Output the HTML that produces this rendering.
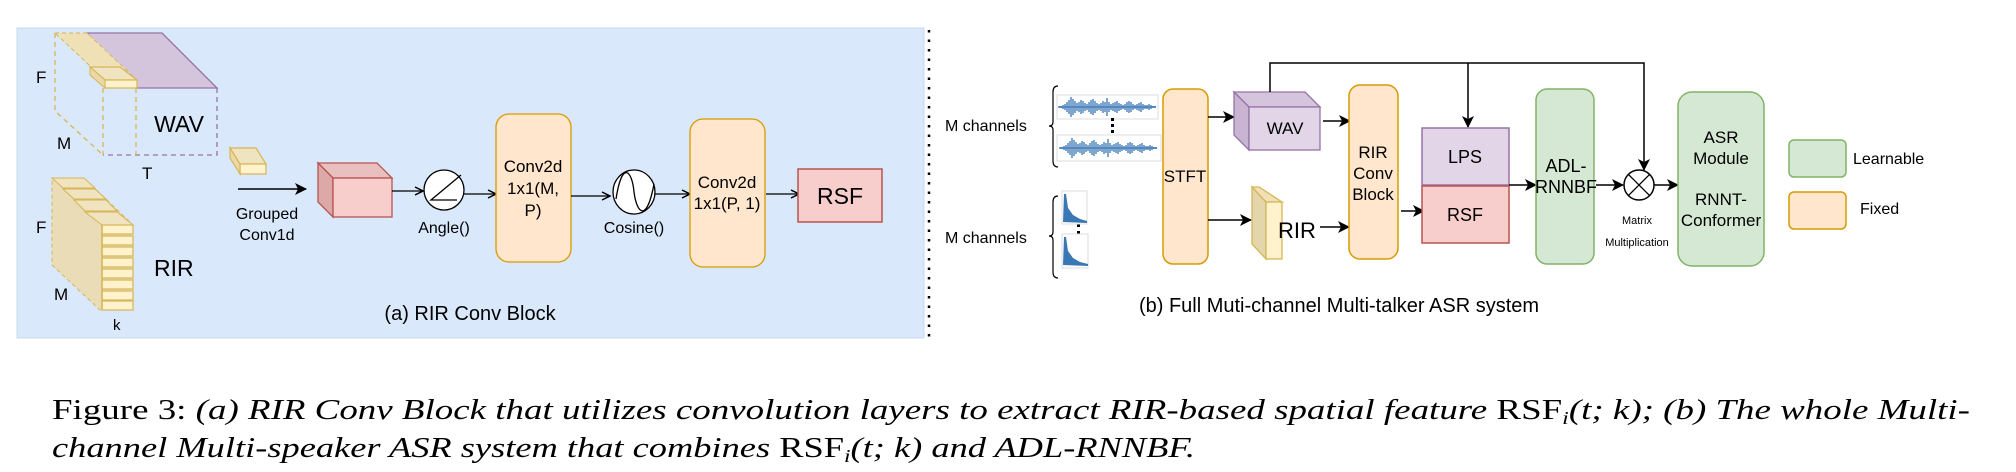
<!DOCTYPE html>
<html><head><meta charset="utf-8"><style>
html,body{margin:0;padding:0;background:#fff;}
svg{display:block;}
text{font-family:"Liberation Sans",sans-serif;fill:#000;}
.cap{font-family:"Liberation Serif",serif;}
</style></head><body>
<svg width="2016" height="472" viewBox="0 0 2016 472" xmlns="http://www.w3.org/2000/svg">
<defs>
<marker id="oa" markerWidth="10" markerHeight="10" refX="9" refY="5" orient="auto" markerUnits="userSpaceOnUse"><path d="M1 1 L9 5 L1 9" fill="none" stroke="#000" stroke-width="1.5"/></marker>
<marker id="sa" markerWidth="12" markerHeight="12" refX="11" refY="6" orient="auto" markerUnits="userSpaceOnUse"><path d="M0 0 L12 6 L0 12 L3 6 Z" fill="#000"/></marker>
<path id="wv" d="M1059 -1V1M1061 -1V1M1063 -2V2M1065 -3V3M1067 -5V5M1069 -7V7M1071 -10V10M1073 -8V8M1075 -6V6M1077 -4V4M1079 -5V5M1081 -7V7M1083 -6V6M1085 -4V4M1087 -3V3M1089 -5V5M1091 -7V7M1093 -8V8M1095 -6V6M1097 -4V4M1099 -3V3M1101 -4V4M1103 -6V6M1105 -5V5M1107 -9V9M1109 -5V5M1111 -3V3M1113 -4V4M1115 -5V5M1117 -6V6M1119 -4V4M1121 -3V3M1123 -2V2M1125 -3V3M1127 -5V5M1129 -6V6M1131 -5V5M1133 -3V3M1135 -2V2M1137 -3V3M1139 -4V4M1141 -5V5M1143 -3V3M1145 -2V2M1147 -2V2M1149 -3V3M1151 -2V2M1153 -1V1M1155 -1V1M1059 0H1156" fill="none" stroke="#3a77b5" stroke-width="1.3"/>
</defs>
<!-- panel a -->
<rect x="17" y="28" width="907" height="310" fill="#dae8fc" stroke="#c9d8ee"/>
<line x1="929" y1="30" x2="929" y2="340" stroke="#000" stroke-width="2.5" stroke-dasharray="2.5,7"/>

<!-- WAV slab -->
<polygon points="87,33 162,33 217,88 137,88" fill="#d5c5dc" stroke="#9673a6" stroke-width="1.3"/>
<polyline points="217,88 217,155 103,155" fill="none" stroke="#9673a6" stroke-width="1.3" stroke-dasharray="5,4"/>
<polyline points="55,33 55,111 103,155" fill="none" stroke="#d6b656" stroke-width="1.3" stroke-dasharray="5,4"/>
<line x1="103" y1="88" x2="103" y2="155" stroke="#d6b656" stroke-width="1.3" stroke-dasharray="5,4"/>
<line x1="136" y1="88" x2="136" y2="155" stroke="#d6b656" stroke-width="1.3" stroke-dasharray="5,4"/>
<polygon points="55,33 87,33 137,80 105,80" fill="#efe0b5" stroke="#d6b656" stroke-width="1" stroke-dasharray="4,3"/>
<polygon points="90,67 120,67 137,80 105,80" fill="#f0e3bf" stroke="#d6b656" stroke-width="1.2"/>
<rect x="105" y="80" width="32" height="8" fill="#fff2cc" stroke="#d6b656" stroke-width="1.2"/>
<polygon points="90,67 105,80 105,88 90,75" fill="#e9d9a9" stroke="#d6b656" stroke-width="1"/>
<text x="36" y="83" font-size="17">F</text>
<text x="57" y="149" font-size="17">M</text>
<text x="179" y="132" font-size="23" text-anchor="middle">WAV</text>
<text x="142" y="179" font-size="17">T</text>

<!-- RIR stack -->
<polygon points="52,178 84,178 133,225 133,310 100,310 52,265" fill="#e9dcb6" stroke="#d6b656" stroke-width="1" stroke-dasharray="4,3"/>
<polygon points="52,178 84,178 95,188 63,188" fill="#f0e3bf" stroke="#d6b656"/>
<polygon points="63,189 95,189 106,199 74,199" fill="#f0e3bf" stroke="#d6b656"/>
<polygon points="74,200 106,200 117,211 85,211" fill="#f0e3bf" stroke="#d6b656"/>
<polygon points="85,212 117,212 133,225 102,225" fill="#f0e3bf" stroke="#d6b656"/>
<g fill="#fff2cc" stroke="#d6b656" stroke-width="1.2">
<rect x="102" y="225" width="31" height="9"/><rect x="102" y="236" width="31" height="9"/>
<rect x="102" y="247" width="31" height="9"/><rect x="102" y="258" width="31" height="9"/>
<rect x="102" y="269" width="31" height="9"/><rect x="102" y="280" width="31" height="9"/>
<rect x="102" y="291" width="31" height="9"/><rect x="102" y="301" width="31" height="9"/>
</g>
<line x1="102" y1="225" x2="102" y2="310" stroke="#d6b656" stroke-width="1.5"/>
<text x="36" y="233" font-size="17">F</text>
<text x="154" y="276" font-size="23">RIR</text>
<text x="54" y="300" font-size="17">M</text>
<text x="113" y="330" font-size="15">k</text>

<!-- grouped conv -->
<polygon points="230,148 256,148 266,164 240,164" fill="#f0e3bf" stroke="#d6b656" stroke-width="1.2"/>
<rect x="240" y="164" width="26" height="10" fill="#fff2cc" stroke="#d6b656" stroke-width="1.2"/>
<polygon points="230,148 240,164 240,174 230,158" fill="#e9d9a9" stroke="#d6b656" stroke-width="1.2"/>
<line x1="238" y1="189" x2="306" y2="189" stroke="#000" stroke-width="1.5" marker-end="url(#sa)"/>
<text x="267" y="219" font-size="16" text-anchor="middle">Grouped</text>
<text x="267" y="240" font-size="16" text-anchor="middle">Conv1d</text>

<!-- red cube -->
<polygon points="318,163 377,163 392,178 333,178" fill="#e9bfbf" stroke="#b85450" stroke-width="1.3"/>
<polygon points="318,163 333,178 333,217 318,202" fill="#dca9a8" stroke="#b85450" stroke-width="1.3"/>
<rect x="333" y="178" width="59" height="39" fill="#f8cecc" stroke="#b85450" stroke-width="1.3"/>
<line x1="392" y1="191" x2="423" y2="191" stroke="#000" stroke-width="1.3" marker-end="url(#oa)"/>
<circle cx="444" cy="190" r="20" fill="#fff" stroke="#000" stroke-width="1.3"/>
<polyline points="461,175 431,200 457,200" fill="none" stroke="#000" stroke-width="1.3"/>
<text x="444" y="233" font-size="16" text-anchor="middle">Angle()</text>
<line x1="464" y1="194" x2="496" y2="194" stroke="#000" stroke-width="1.3" marker-end="url(#oa)"/>
<rect x="496" y="114" width="75" height="148" rx="13" fill="#ffe6cc" stroke="#d79b00" stroke-width="1.3"/>
<text x="533" y="172" font-size="17" text-anchor="middle">Conv2d</text>
<text x="533" y="194" font-size="17" text-anchor="middle">1x1(M,</text>
<text x="533" y="216" font-size="17" text-anchor="middle">P)</text>
<line x1="571" y1="196" x2="610" y2="196" stroke="#000" stroke-width="1.3" marker-end="url(#oa)"/>
<ellipse cx="634" cy="192" rx="21" ry="22" fill="#fff" stroke="#000" stroke-width="1.3"/>
<path d="M616 199 C622 160, 632 170, 634 192 C637 215, 647 222, 654 184" fill="none" stroke="#000" stroke-width="1.3"/>
<text x="634" y="233" font-size="16" text-anchor="middle">Cosine()</text>
<line x1="655" y1="194" x2="690" y2="194" stroke="#000" stroke-width="1.3" marker-end="url(#oa)"/>
<rect x="690" y="119" width="75" height="148" rx="13" fill="#ffe6cc" stroke="#d79b00" stroke-width="1.3"/>
<text x="727" y="188" font-size="17" text-anchor="middle">Conv2d</text>
<text x="727" y="209" font-size="17" text-anchor="middle">1x1(P, 1)</text>
<line x1="766" y1="194" x2="799" y2="194" stroke="#000" stroke-width="1.3" marker-end="url(#oa)"/>
<rect x="798" y="169" width="84" height="53" fill="#f8cecc" stroke="#b85450" stroke-width="1.5"/>
<text x="840" y="204" font-size="23" text-anchor="middle">RSF</text>
<text x="470" y="320" font-size="20" text-anchor="middle">(a) RIR Conv Block</text>

<!-- panel b -->
<text x="945" y="131" font-size="16">M channels</text>
<text x="945" y="243" font-size="16">M channels</text>
<path d="M1058 86 Q1053 86 1053 92 L1053 122 Q1053 126 1049 126 Q1053 126 1053 130 L1053 161 Q1053 167 1058 167" fill="none" stroke="#000" stroke-width="1.2"/>
<path d="M1058 196 Q1053 196 1053 202 L1053 232 Q1053 236 1049 236 Q1053 236 1053 240 L1053 272 Q1053 278 1058 278" fill="none" stroke="#000" stroke-width="1.2"/>
<rect x="1057" y="95" width="101" height="24" fill="#fff" stroke="#ddd"/>
<rect x="1057" y="135" width="104" height="26" fill="#fff" stroke="#ddd"/>
<use href="#wv" transform="translate(0,107)"/>
<use href="#wv" transform="translate(1,148)"/>
<g fill="#000"><rect x="1111" y="118" width="3" height="3"/><rect x="1111" y="124" width="3" height="3"/><rect x="1111" y="130" width="3" height="3"/>
<rect x="1077" y="217" width="3" height="3"/><rect x="1077" y="224" width="3" height="3"/><rect x="1077" y="231" width="3" height="3"/></g>
<rect x="1062" y="191" width="25" height="33" fill="#fff" stroke="#ddd"/>
<rect x="1062" y="234" width="26" height="34" fill="#fff" stroke="#ddd"/>
<g fill="#3a77b5">
<polygon points="1063,222 1064,194 1066,194 1068,208 1073,215 1080,219 1087,221 1087,223"/>
<polygon points="1063,265 1064,237 1066,237 1068,251 1073,258 1080,262 1088,264 1088,266"/>
</g>
<rect x="1163" y="89" width="45" height="175" rx="10" fill="#ffe6cc" stroke="#d79b00" stroke-width="1.5"/>
<text x="1185" y="182" font-size="17" text-anchor="middle">STFT</text>
<line x1="1208" y1="117" x2="1234" y2="117" stroke="#000" stroke-width="1.5" marker-end="url(#sa)"/>
<polygon points="1234,92 1305,92 1320,107 1249,107" fill="#d5c5dc" stroke="#9673a6" stroke-width="1.3"/>
<polygon points="1234,92 1249,107 1249,150 1234,135" fill="#c9b5d3" stroke="#9673a6" stroke-width="1.3"/>
<rect x="1249" y="107" width="71" height="43" fill="#e1d5e7" stroke="#9673a6" stroke-width="1.3"/>
<text x="1285" y="134" font-size="17" text-anchor="middle">WAV</text>
<line x1="1323" y1="121" x2="1350" y2="121" stroke="#000" stroke-width="1.5" marker-end="url(#sa)"/>
<line x1="1208" y1="220" x2="1251" y2="220" stroke="#000" stroke-width="1.5" marker-end="url(#sa)"/>
<polygon points="1252,187 1266,202 1266,259 1252,244" fill="#e3d6ab" stroke="#d6b656" stroke-width="1.3"/>
<polygon points="1252,187 1259,187 1282,202 1266,202" fill="#efe0b5" stroke="#d6b656" stroke-width="1.3"/>
<rect x="1266" y="202" width="16" height="57" fill="#fff2cc" stroke="#d6b656" stroke-width="1.3"/>
<text x="1297" y="238" font-size="22" text-anchor="middle">RIR</text>
<line x1="1320" y1="227" x2="1349" y2="227" stroke="#000" stroke-width="1.5" marker-end="url(#sa)"/>
<rect x="1349" y="85" width="49" height="174" rx="11" fill="#ffe6cc" stroke="#d79b00" stroke-width="1.5"/>
<text x="1373" y="158" font-size="17" text-anchor="middle">RIR</text>
<text x="1373" y="179" font-size="17" text-anchor="middle">Conv</text>
<text x="1373" y="200" font-size="17" text-anchor="middle">Block</text>
<line x1="1401" y1="211" x2="1424" y2="211" stroke="#000" stroke-width="1.5" marker-end="url(#sa)"/>
<polyline points="1270,92 1270,63 1644,63 1644,170" fill="none" stroke="#000" stroke-width="1.5" marker-end="url(#sa)"/>
<line x1="1468" y1="63" x2="1468" y2="127" stroke="#000" stroke-width="1.5" marker-end="url(#sa)"/>
<rect x="1422" y="128" width="87" height="57" fill="#e1d5e7" stroke="#9673a6" stroke-width="1.5"/>
<rect x="1422" y="186" width="87" height="57" fill="#f8cecc" stroke="#b85450" stroke-width="1.5"/>
<text x="1465" y="163" font-size="18" text-anchor="middle">LPS</text>
<text x="1465" y="221" font-size="18" text-anchor="middle">RSF</text>
<line x1="1509" y1="185" x2="1536" y2="185" stroke="#000" stroke-width="1.5" marker-end="url(#sa)"/>
<rect x="1536" y="89" width="58" height="175" rx="11" fill="#d5e8d4" stroke="#82b366" stroke-width="1.5"/>
<text x="1566" y="172" font-size="18" text-anchor="middle">ADL-</text>
<text x="1566" y="193" font-size="18" text-anchor="middle">RNNBF</text>
<line x1="1596" y1="185" x2="1623" y2="185" stroke="#000" stroke-width="1.5" marker-end="url(#sa)"/>
<circle cx="1639" cy="185" r="15" fill="#fff" stroke="#000" stroke-width="1.5"/>
<line x1="1628.4" y1="174.4" x2="1649.6" y2="195.6" stroke="#000" stroke-width="1.3"/>
<line x1="1649.6" y1="174.4" x2="1628.4" y2="195.6" stroke="#000" stroke-width="1.3"/>
<line x1="1654" y1="185" x2="1678" y2="185" stroke="#000" stroke-width="1.5" marker-end="url(#sa)"/>
<text x="1637" y="224" font-size="11" text-anchor="middle">Matrix</text>
<text x="1637" y="246" font-size="11" text-anchor="middle">Multiplication</text>
<rect x="1678" y="92" width="86" height="174" rx="14" fill="#d5e8d4" stroke="#82b366" stroke-width="1.5"/>
<text x="1721" y="143" font-size="17" text-anchor="middle">ASR</text>
<text x="1721" y="164" font-size="17" text-anchor="middle">Module</text>
<text x="1721" y="205" font-size="17" text-anchor="middle">RNNT-</text>
<text x="1721" y="226" font-size="17" text-anchor="middle">Conformer</text>
<rect x="1789" y="140" width="57" height="37" rx="5" fill="#d5e8d4" stroke="#82b366" stroke-width="1.5"/>
<rect x="1789" y="192" width="57" height="37" rx="5" fill="#ffe6cc" stroke="#d79b00" stroke-width="1.5"/>
<text x="1853" y="164" font-size="16">Learnable</text>
<text x="1860" y="214" font-size="16">Fixed</text>
<text x="1339" y="312" font-size="20" text-anchor="middle">(b) Full Muti-channel Multi-talker ASR system</text>

<!-- caption -->
<text class="cap" x="52" y="419" font-size="28" textLength="1918" lengthAdjust="spacingAndGlyphs">Figure 3: <tspan font-style="italic">(a) RIR Conv Block that utilizes convolution layers to extract RIR-based spatial feature </tspan>RSF<tspan font-size="18" dy="5" font-style="italic">i</tspan><tspan dy="-5" font-style="italic">(t; k); (b) The whole Multi-</tspan></text>
<text class="cap" x="52" y="457" font-size="28" font-style="italic" textLength="1143" lengthAdjust="spacingAndGlyphs">channel Multi-speaker ASR system that combines <tspan font-style="normal">RSF</tspan><tspan font-size="18" dy="5">i</tspan><tspan dy="-5">(t; k) and ADL-RNNBF.</tspan></text>
</svg>
</body></html>
